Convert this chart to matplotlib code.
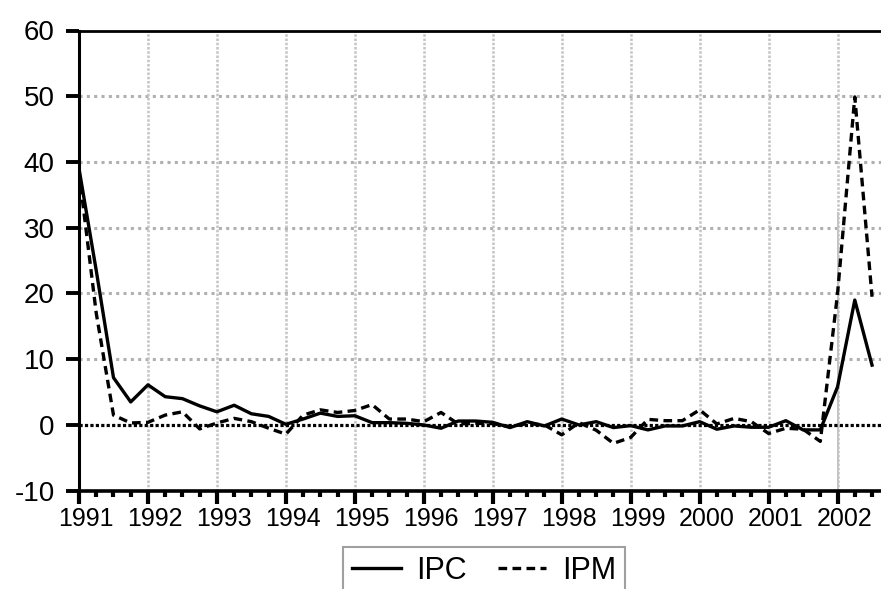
import numpy as np
import matplotlib
matplotlib.use("Agg")
import matplotlib.pyplot as plt
import matplotlib.transforms as mtransforms
from matplotlib.ticker import MultipleLocator

plt.rcParams['font.family'] = ['Liberation Sans', 'DejaVu Sans']
plt.rcParams['axes.unicode_minus'] = False

# quarterly series, 1991Q1 .. 2002Q3
first_year = 1991
ipc = [39.0, 23.5, 7.2, 3.5,
       6.1, 4.3, 4.0, 2.9,
       2.0, 3.0, 1.7, 1.3,
       0.1, 0.9, 1.8, 1.3,
       1.4, 0.35, 0.35, 0.25,
       0.0, -0.5, 0.6, 0.6,
       0.4, -0.4, 0.5, -0.15,
       0.9, 0.0, 0.5, -0.4,
       -0.1, -0.75, -0.15, -0.15,
       0.5, -0.65, -0.15, -0.35,
       -0.35, 0.65, -0.75, -0.75,
       5.8, 19.0, 9.1]
ipm = [38.5, 17.0, 1.5, 0.3,
       0.4, 1.5, 2.0, -0.6,
       0.3, 1.0, 0.5, -0.5,
       -1.4, 1.5, 2.3, 1.9,
       2.2, 3.1, 0.9, 0.9,
       0.5, 1.9, 0.15, 0.25,
       0.2, -0.25, 0.2, 0.0,
       -1.5, 0.35, -0.8, -2.8,
       -1.9, 0.85, 0.65, 0.65,
       2.3, 0.15, 1.0, 0.5,
       -1.3, -0.5, -0.65, -2.5,
       20.0, 49.9, 19.5]
years = list(range(1991, 2003))
yticks = [-10, 0, 10, 20, 30, 40, 50, 60]

x = first_year + np.arange(len(ipc)) / 4

fig = plt.figure(figsize=(8.81, 5.89), dpi=100)
ax = fig.add_axes([79 / 881, 1 - 490.7 / 589, 1 - 79 / 881, (490.7 - 30.5) / 589])

# grid
for v in yticks[2:-1]:
    ax.axhline(v, color='#b0b0b0', lw=2.2, ls=(0, (1, 1.4)), zorder=1)
for yr in years[1:]:
    ax.axvline(yr, color='#c4c4c4', lw=1.8, ls=(0, (1, 0.7)), zorder=1)
ax.plot([2002, 2002], [-10, 32.3], color='#c4c4c4', lw=1.4, zorder=1)
ax.axhline(0, color='black', lw=2.3, ls=(0, (1, 0.7)), zorder=2)

ax.plot(x, ipc, color='black', lw=2.4, label='IPC', zorder=3)
ax.plot(x, ipm, color='black', lw=2.4, ls=(0, (2.6, 1.6)), label='IPM', zorder=3)

ax.set_xlim(1991, 2002.63)
ax.set_ylim(-10, 60)
ax.set_xticks(years)
ax.set_xticklabels([str(y) for y in years])
ax.xaxis.set_minor_locator(MultipleLocator(0.25))
ax.set_yticks(yticks)
ax.set_yticklabels([str(v) for v in yticks])

ax.tick_params(axis='x', which='major', length=9, width=3, labelsize=18, pad=2.5)
ax.tick_params(axis='x', which='minor', length=4.5, width=3)
ax.tick_params(axis='y', length=9.5, width=2.8, labelsize=20, pad=8)

offset = mtransforms.ScaledTranslation(0.07, 0, fig.dpi_scale_trans)
for lab in ax.get_xticklabels():
    lab.set_transform(lab.get_transform() + offset)

ax.spines['right'].set_visible(False)
ax.spines['left'].set_linewidth(2.2)
ax.spines['bottom'].set_linewidth(2.6)
ax.spines['top'].set_linewidth(2.0)

leg = fig.legend(loc='upper center', bbox_to_anchor=(484 / 881, 1 - 547 / 589),
                 ncol=2, fontsize=22, frameon=True, fancybox=False,
                 edgecolor='#888888', handlelength=1.6, handletextpad=0.5,
                 columnspacing=1.0, borderaxespad=0, borderpad=0.3)
leg.get_frame().set_linewidth(1.5)

fig.savefig("out.png", dpi=100)
